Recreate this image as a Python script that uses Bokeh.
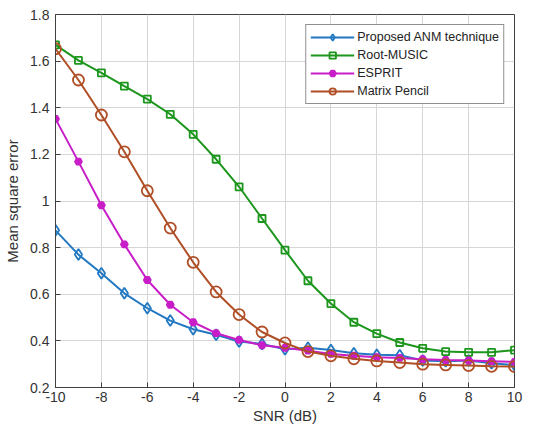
from bokeh.plotting import figure
from bokeh.models import Legend, LegendItem, FixedTicker, CustomJSTickFormatter
from bokeh.embed import file_html
from bokeh.resources import INLINE

snr = list(range(-10, 11))
anm = [0.874, 0.770, 0.690, 0.604, 0.540, 0.487, 0.450, 0.426, 0.397, 0.387, 0.364,
       0.371, 0.361, 0.347, 0.341, 0.338, 0.316, 0.313, 0.316, 0.304, 0.296]
root_music = [1.670, 1.603, 1.550, 1.493, 1.437, 1.372, 1.286, 1.179, 1.061, 0.925, 0.789,
              0.658, 0.560, 0.480, 0.431, 0.393, 0.368, 0.354, 0.351, 0.351, 0.360]
esprit = [1.352, 1.169, 0.982, 0.814, 0.661, 0.555, 0.480, 0.433, 0.404, 0.381, 0.370,
          0.358, 0.344, 0.336, 0.330, 0.327, 0.321, 0.318, 0.316, 0.313, 0.310]
pencil = [1.653, 1.519, 1.369, 1.211, 1.044, 0.884, 0.737, 0.610, 0.513, 0.438, 0.391,
          0.354, 0.336, 0.323, 0.314, 0.307, 0.300, 0.297, 0.294, 0.291, 0.290]
x_ticks = [-10, -8, -6, -4, -2, 0, 2, 4, 6, 8, 10]
y_ticks = [0.2, 0.4, 0.6, 0.8, 1.0, 1.2, 1.4, 1.6, 1.8]

FONT = "Liberation Sans"
AX = "#404040"

p = figure(width=530, height=427, frame_width=459, frame_height=373,
           x_range=(-10, 10), y_range=(0.2, 1.8),
           output_backend="svg", toolbar_location=None,
           min_border_left=55, min_border_right=16, min_border_top=14, min_border_bottom=40)
p.background_fill_color = "white"
p.border_fill_color = "white"
p.outline_line_color = AX
p.outline_line_width = 1

for ax in (p.xaxis[0], p.yaxis[0]):
    ax.axis_line_color = AX
    ax.major_tick_line_color = AX
    ax.major_tick_in = 5
    ax.major_tick_out = 0
    ax.minor_tick_line_color = None
    ax.major_label_text_font = FONT
    ax.major_label_text_font_size = "14px"
    ax.major_label_text_color = "#333333"
    ax.axis_label_text_font = FONT
    ax.axis_label_text_font_size = "15px"
    ax.axis_label_text_font_style = "normal"
    ax.axis_label_text_color = "#333333"

p.xaxis.ticker = FixedTicker(ticks=x_ticks)
p.yaxis.ticker = FixedTicker(ticks=y_ticks)
fmt = CustomJSTickFormatter(code="return String(Number(tick.toFixed(2)));")
p.xaxis.formatter = fmt
p.yaxis.formatter = fmt
p.xaxis.axis_label = "SNR (dB)"
p.yaxis.axis_label = "Mean square error"
p.xaxis.major_label_standoff = 4
p.xaxis.axis_label_standoff = 2
p.yaxis.major_label_standoff = 6
p.yaxis.axis_label_standoff = 6

p.grid.grid_line_color = "#d6d6d6"
p.grid.grid_line_width = 1

series = [
    ("Proposed ANM technique", anm, "#2279c2", "diamond", 11, False),
    ("Root-MUSIC", root_music, "#1c961c", "square", 7, False),
    ("ESPRIT", esprit, "#c81ec8", "hex", 7, True),
    ("Matrix Pencil", pencil, "#b04e26", "circle", 11, False),
]

items = []
for name, ys, col, mk, sz, filled in series:
    r1 = p.line(snr, ys, line_color=col, line_width=2)
    r2 = p.scatter(snr, ys, marker=mk, size=sz, line_color=col, line_width=1.8,
                   fill_color=col if filled else "white", fill_alpha=1.0 if filled else 0.0)
    items.append(LegendItem(label=name, renderers=[r1, r2]))

legend = Legend(items=items, location="top_right")
legend.label_text_font = FONT
legend.label_text_font_size = "12.5px"
legend.label_text_color = "#222222"
legend.border_line_color = "#222222"
legend.border_line_width = 1
legend.background_fill_alpha = 1.0
legend.glyph_width = 44
legend.glyph_height = 16
legend.label_height = 16
legend.spacing = 2
legend.padding = 4
legend.margin = 10
legend.label_standoff = 3
p.add_layout(legend)

open("out.html", "w").write(file_html(p, INLINE))
